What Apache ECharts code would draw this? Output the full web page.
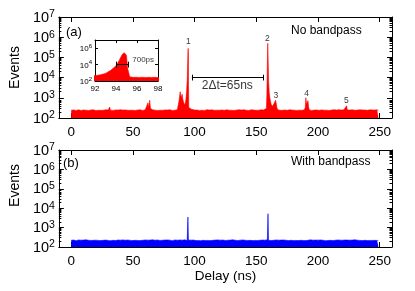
<!DOCTYPE html>
<html><head><meta charset="utf-8">
<script src="https://cdn.jsdelivr.net/npm/echarts@6/dist/echarts.min.js"></script>
<style>html,body{margin:0;padding:0;background:#fff}#c{width:415px;height:291px}</style>
</head><body><div id="c"></div>
<script>
// ---- data ----
// Noise baseline, one value per ns from 0 to 249
const redNoise = [
245,238,252,241,236,248,255,240,234,246,251,239,243,257,236,242,249,238,253,244,235,247,241,256,239,
248,242,237,254,246,250,246,241,255,238,244,251,236,249,243,257,240,246,238,252,245,239,254,242,248,
241,256,237,245,250,239,253,243,236,248,255,242,250,246,241,247,254,239,245,251,237,248,243,256,240,
246,252,238,249,243,257,241,236,250,245,254,248,260,272,268,264,258,254,262,256,249,243,258,239,247,
251,240,246,255,238,249,243,252,237,246,258,241,248,236,253,245,239,250,244,257,242,236,249,254,240,
247,253,239,245,256,241,248,237,252,246,240,255,243,249,238,254,245,241,250,236,248,257,242,246,251,
239,253,245,248,256,240,247,254,262,270,278,265,258,250,246,253,260,255,248,242,256,239,251,246,253,
241,248,255,239,246,252,243,257,238,249,245,253,240,247,256,262,259,250,244,251,238,255,246,242,249,
254,240,247,252,238,245,256,243,249,237,253,246,241,258,244,248,239,255,242,250,246,253,240,248,256,
243,249,238,254,246,241,252,247,239,255,244,250,242,248,257,240,246,253,239,251,245,248,243,254,246
];
const blueNoise = [
222,216,229,219,213,226,231,218,224,215,228,220,233,214,223,227,217,230,221,212,225,232,219,226,216,
229,221,214,227,234,218,224,213,228,220,231,216,223,229,215,226,219,232,217,224,213,230,222,218,227,
215,228,221,233,217,225,214,229,222,216,231,219,226,213,227,220,234,218,224,215,230,221,217,228,223,
214,229,219,232,216,225,222,213,227,231,218,224,215,230,220,226,217,233,221,214,228,219,225,216,229,
222,215,231,218,226,213,228,221,234,217,224,219,230,214,227,222,216,229,220,232,218,225,213,228,221,
217,230,223,215,227,219,233,216,224,221,214,229,226,218,231,215,222,228,217,225,220,232,214,227,219,
224,216,230,222,213,228,220,226,217,234,219,223,215,229,221,216,231,218,225,213,227,222,230,217,224,
219,214,228,221,232,216,226,218,229,215,223,220,231,217,225,214,228,222,216,233,219,224,213,227,221,
226,215,230,218,224,221,213,229,217,232,220,225,216,228,222,214,231,219,226,218,223,215,230,221,227,
217,224,213,229,220,233,216,225,222,218,230,214,227,221,226,215,232,219,223,217,228,220,225,216,222
];
// Peak shapes in the red (no bandpass) histogram: [delay ns, events]
const redBump30 = [[30.7,245],[31.2,350],[31.7,245]];
const redBump62 = [[61.6,248],[62.2,560],[62.7,320],[63.1,330],[63.6,760],[64.2,300],[64.7,248]];
const redPeak1 = [[86.0,255],[86.7,300],[87.4,700],[88.3,2000],[88.8,1300],[89.2,1000],[89.9,1500],[90.4,900],
  [91.0,620],[91.5,500],[92.0,440],[92.5,560],[93.0,850],[93.5,2000],[94.0,7000],[94.3,32000],[94.6,180000],
  [94.8,280000],[95.0,130000],[95.1,4000],[95.3,330],[95.6,278],[95.9,288],[96.2,270],[96.5,284],[96.8,268],
  [97.1,282],[97.4,272],[97.7,286],[98.0,266],[98.4,278],[98.8,250]];
const redPeak2 = [[157.6,252],[158.2,300],[158.6,1500],[159.0,60000],[159.3,500000],[159.6,90000],[160.0,6000],
  [160.5,1800],[161.0,1000],[161.5,700],[162.0,480],[162.6,400],[163.2,380],[163.8,420],[164.4,520],[165.0,650],
  [165.6,760],[166.1,560],[166.7,330],[167.3,260]];
const redPeak4 = [[189.2,252],[189.7,330],[190.2,1000],[190.7,480],[191.3,420],[191.9,720],[192.4,350],[193.0,250]];
const redPeak5 = [[222.6,248],[223.2,400],[223.8,248]];
const bluePeak1 = [[94.2,230],[94.6,3500],[95.0,228]];
const bluePeak2 = [[159.1,226],[159.5,5200],[159.9,224]];
// annotations
const peakLabels = [[94.9,575000,'1'],[159,850000,'2'],[165.9,1260,'3'],[190.7,1580,'4'],[223,710,'5']];
const barDt = {x1:97.8, x2:155.9, y:10000, capLo:7200, capHi:13900, text:'2\u0394t=65ns', tx:126.5, ty:3800};
const barPs = {x1:94.0, x2:95.2, y:10000, capLo:4400, capHi:22800, text:'700ps', tx:95.55, ty:40000};
const xTicks = [0,50,100,150,200,250];
const yTicks = [1e2,1e3,1e4,1e5,1e6,1e7];
const yMinor = [];
for (let d = 2; d < 7; d++) for (let k = 2; k <= 9; k++) yMinor.push(k * Math.pow(10, d));
const insetYTicks = [1e2,1e4,1e6];

// ---- build series data ----
function build(noise, peaks) {
  const out = [];
  noise.forEach((v, i) => {
    if (!peaks.some(p => i >= p[0][0] && i <= p[p.length-1][0])) out.push([i, v]);
  });
  peaks.forEach(p => p.forEach(pt => out.push(pt)));
  out.sort((a, b) => a[0] - b[0]);
  return out;
}
const redData = build(redNoise, [redBump30, redBump62, redPeak1, redPeak2, redPeak4, redPeak5]);
const blueData = build(blueNoise, [bluePeak1, bluePeak2]);

const FONT = 'Liberation Sans';
const chart = echarts.init(document.getElementById('c'));
const supFmt = v => '{b|10}{s|' + Math.round(Math.log10(v)) + '}';
const rich = {b:{fontSize:14.5,fontFamily:FONT,color:'#000',lineHeight:16,verticalAlign:'bottom'},
              s:{fontSize:10.5,fontFamily:FONT,color:'#000',lineHeight:16,verticalAlign:'top'}};
const richS = {b:{fontSize:8,fontFamily:FONT,color:'#000',lineHeight:10,verticalAlign:'bottom'},
               s:{fontSize:6,fontFamily:FONT,color:'#000',lineHeight:10,verticalAlign:'top'}};
const axLine = {show:true, onZero:false, lineStyle:{color:'#000', width:1}};
const noLine = {show:false, onZero:false};

function xAxes(grid, name) {
  const base = {type:'value', gridIndex:grid, min:-10, max:260, splitLine:{show:false}, axisLine:axLine};
  return [
    Object.assign({}, base, {position:'bottom',
      axisTick:{inside:true, length:5, customValues:xTicks, lineStyle:{color:'#000'}},
      axisLabel:{show:true, customValues:xTicks, fontSize:13.5, fontFamily:FONT, color:'#000', margin:7},
      name:name, nameLocation:'middle', nameGap:20, nameTextStyle:{fontSize:13.5, fontFamily:FONT, color:'#000'}}),
    Object.assign({}, base, {position:'top',
      axisTick:{inside:true, length:5, customValues:xTicks, lineStyle:{color:'#000'}},
      axisLabel:{show:false}})
  ];
}
function yAxes(grid, namePad) {
  const base = {type:'log', logBase:10, gridIndex:grid, min:1e2, max:1e7, splitLine:{show:false}};
  return [
    Object.assign({}, base, {position:'left', axisLine:axLine,
      axisTick:{inside:true, length:5, customValues:yTicks, lineStyle:{color:'#000'}},
      axisLabel:{customValues:yTicks, formatter:supFmt, rich:rich, margin:4},
      name:'Events', nameLocation:'middle', nameGap:34,
      nameTextStyle:{fontSize:14, fontFamily:FONT, color:'#000', padding:namePad}}),
    Object.assign({}, base, {position:'left', axisLine:noLine,
      axisTick:{inside:true, length:2.5, customValues:yMinor, lineStyle:{color:'#000'}}, axisLabel:{show:false}}),
    Object.assign({}, base, {position:'right', axisLine:axLine,
      axisTick:{inside:true, length:5, customValues:yTicks, lineStyle:{color:'#000'}}, axisLabel:{show:false}}),
    Object.assign({}, base, {position:'right', axisLine:noLine,
      axisTick:{inside:true, length:2.5, customValues:yMinor, lineStyle:{color:'#000'}}, axisLabel:{show:false}})
  ];
}
const insetX = {type:'value', gridIndex:2, min:92, max:98, interval:2, splitLine:{show:false}, axisLine:axLine};
const insetY = {type:'log', logBase:10, gridIndex:2, min:1e2, max:1e7, splitLine:{show:false}, axisLine:axLine};

function labelSeries(xi, yi, data, size, align) {
  return {type:'scatter', xAxisIndex:xi, yAxisIndex:yi, symbolSize:1, silent:true, z:10,
    data:data, itemStyle:{color:'rgba(0,0,0,0)'},
    label:{show:true, position:'inside', formatter:p => p.value[2], fontSize:size, fontFamily:FONT, color:'#000', align:align||'center'}};
}
function barSeries(xi, yi, b) {
  return {type:'lines', coordinateSystem:'cartesian2d', xAxisIndex:xi, yAxisIndex:yi, z:10, silent:true,
    lineStyle:{color:'#000', width:1, opacity:1}, symbol:'none',
    data:[{coords:[[b.x1,b.y],[b.x2,b.y]]},{coords:[[b.x1,b.capLo],[b.x1,b.capHi]]},{coords:[[b.x2,b.capLo],[b.x2,b.capHi]]}]};
}

const option = {
  animation:false,
  grid:[
    {left:51, top:17, width:341, height:101},
    {left:51, top:150, width:341, height:97},
    {left:95, top:40, width:63, height:41}
  ],
  xAxis:[].concat(xAxes(0, ''), xAxes(1, 'Delay (ns)'), [
    Object.assign({}, insetX, {position:'bottom', axisTick:{inside:true, length:3, lineStyle:{color:'#000'}},
      axisLabel:{fontSize:8, fontFamily:FONT, color:'#000', margin:4}}),
    Object.assign({}, insetX, {position:'top', axisTick:{inside:true, length:3, lineStyle:{color:'#000'}}, axisLabel:{show:false}})
  ]),
  yAxis:[].concat(yAxes(0, [0,0,0,0]), yAxes(1, [0,0,0,26]), [
    Object.assign({}, insetY, {position:'left', axisTick:{inside:true, length:3, customValues:insetYTicks, lineStyle:{color:'#000'}},
      axisLabel:{customValues:insetYTicks, formatter:supFmt, rich:richS, margin:3}}),
    Object.assign({}, insetY, {position:'right', axisTick:{inside:true, length:3, customValues:insetYTicks, lineStyle:{color:'#000'}}, axisLabel:{show:false}})
  ]),
  series:[
    {type:'line', name:'No bandpass', xAxisIndex:0, yAxisIndex:0, data:redData, showSymbol:false, symbol:'none',
      lineStyle:{color:'#ff0000', width:0.6}, areaStyle:{color:'#ff0000', opacity:1, origin:'start'}},
    {type:'line', name:'With bandpass', xAxisIndex:2, yAxisIndex:4, data:blueData, showSymbol:false, symbol:'none',
      lineStyle:{color:'#0000ff', width:0.6}, areaStyle:{color:'#0000ff', opacity:1, origin:'start'}},
    {type:'line', name:'inset', xAxisIndex:4, yAxisIndex:8, data:redData, showSymbol:false, symbol:'none', clip:true, z:6,
      lineStyle:{color:'#ff0000', width:0.6}, areaStyle:{color:'#ff0000', opacity:1, origin:'start'}},
    labelSeries(0, 0, peakLabels, 8.5),
    barSeries(0, 0, barDt),
    labelSeries(0, 0, [[barDt.tx, barDt.ty, barDt.text]], 12),
    barSeries(4, 8, barPs),
    labelSeries(4, 8, [[barPs.tx, barPs.ty, barPs.text]], 8, 'left')
  ],
  graphic:[
    {type:'text', left:66, top:26, style:{text:'(a)', font:'13px "Liberation Sans"', fill:'#000'}},
    {type:'text', left:291, top:25, style:{text:'No bandpass', font:'12px "Liberation Sans"', fill:'#000'}},
    {type:'text', left:63, top:157, style:{text:'(b)', font:'13px "Liberation Sans"', fill:'#000'}},
    {type:'text', left:291, top:156, style:{text:'With bandpass', font:'12px "Liberation Sans"', fill:'#000'}}
  ]
};
chart.setOption(option);
</script></body></html>
